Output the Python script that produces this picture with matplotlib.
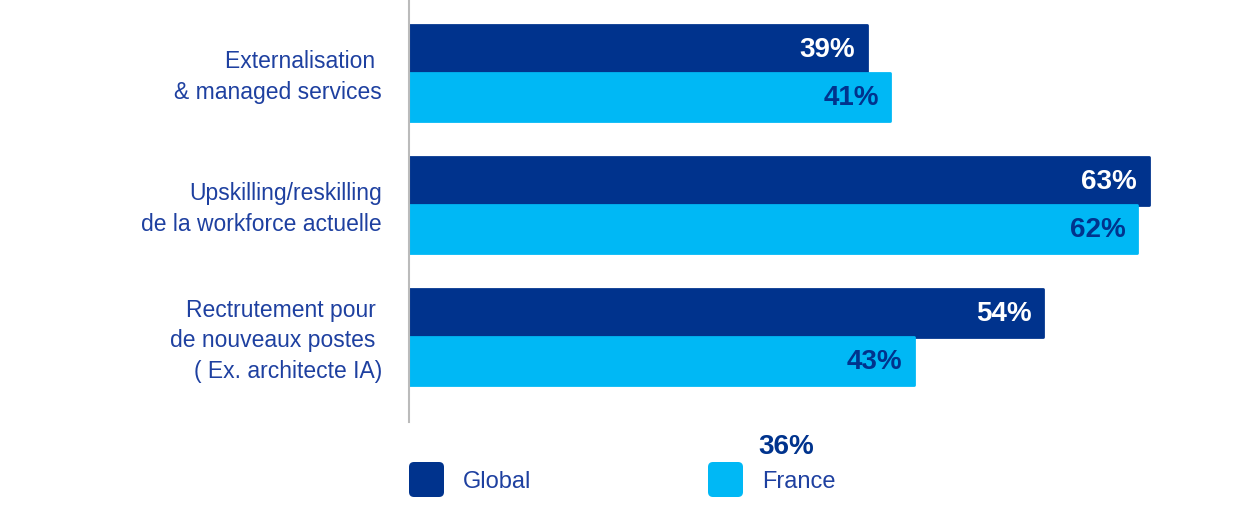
import matplotlib
matplotlib.use('Agg')
import matplotlib.pyplot as plt
from matplotlib.patches import FancyBboxPatch

plt.rcParams['font.family'] = ['Liberation Sans', 'DejaVu Sans']

# data
categories = ['Externalisation \n& managed services',
              'Upskilling/reskilling\nde la workforce actuelle',
              'Rectrutement pour \nde nouveaux postes \n( Ex. architecte IA)']
global_vals = [39, 63, 54]
france_vals = [41, 62, 43]
series_names = ['Global', 'France']
extra_label = '36%'

dark = '#00338D'
light = '#00B8F5'
text_blue = '#1E40A0'

fig = plt.figure(figsize=(12.5, 5.23), dpi=100)
ax = fig.add_axes([409 / 1250, 1 - 422 / 523, 822 / 1250, 422 / 523])

h = 0.364
ypos = list(range(len(categories)))
ax.barh([y - h / 2 for y in ypos], global_vals, height=h, color=dark,
        edgecolor=dark, linewidth=2, joinstyle='round')
ax.barh([y + h / 2 for y in ypos], france_vals, height=h, color=light,
        edgecolor=light, linewidth=2, joinstyle='round')

for y, g, f in zip(ypos, global_vals, france_vals):
    ax.text(g - 1.0, y - h / 2 + 0.01, f'{g}%', ha='right', va='center',
            color='white', fontsize=20, fontweight='bold')
    ax.text(f - 1.0, y + h / 2 + 0.01, f'{f}%', ha='right', va='center',
            color=dark, fontsize=20, fontweight='bold')

ax.set_xlim(0, 70)
ax.set_ylim(2.644, -0.553)
for s in ['top', 'right', 'bottom']:
    ax.spines[s].set_visible(False)
ax.spines['left'].set_color('#BBBBBB')
ax.spines['left'].set_linewidth(1.5)
ax.set_xticks([])
ax.set_yticks([])

# category labels
for y, lab in zip(ypos, categories):
    ax.text(-2.3, y + 0.03, lab, ha='right', va='center', multialignment='right',
            color=text_blue, fontsize=16.5, linespacing=1.4)

# legend
for x0, name, col in [(4.09, series_names[0], dark), (7.08, series_names[1], light)]:
    sq = FancyBboxPatch((x0 + 0.04, 0.30), 0.27, 0.27,
                        boxstyle='round,pad=0.04,rounding_size=0.05',
                        transform=fig.dpi_scale_trans, facecolor=col,
                        edgecolor='none')
    fig.patches.append(sq)
    fig.text((x0 + 0.54) / 12.5, 0.41 / 5.23, name, ha='left', va='center',
             color=text_blue, fontsize=17)

fig.text(7.86 / 12.5, 0.76 / 5.23, extra_label, ha='center', va='center',
         color=dark, fontsize=20, fontweight='bold')

fig.savefig('out.png', dpi=100, facecolor='white')
